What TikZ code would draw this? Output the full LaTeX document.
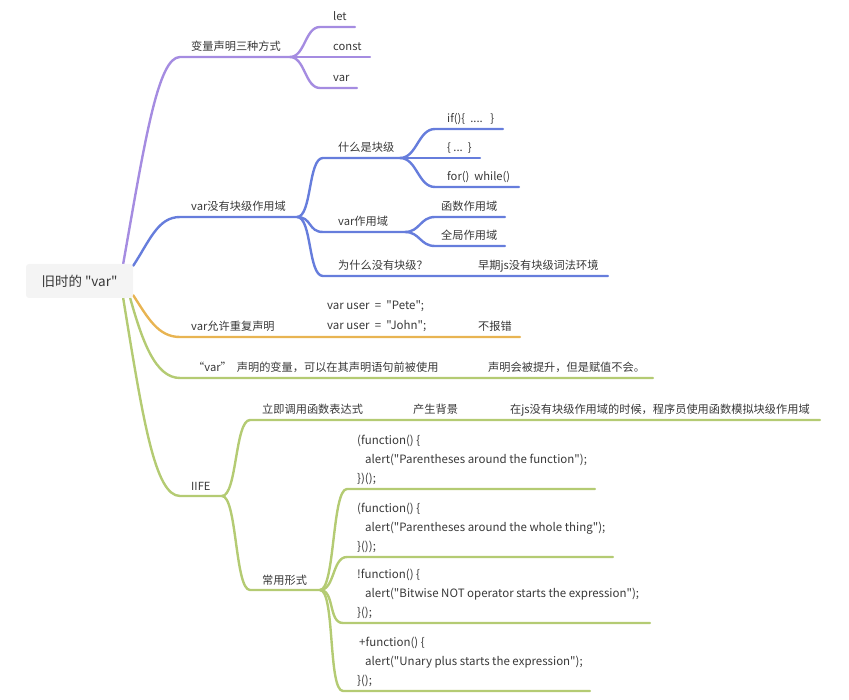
\documentclass[tikz,border=0pt]{standalone}
\usepackage{fontspec}
\setmainfont{Noto Sans CJK SC}[Ligatures=TeXOff]
\usetikzlibrary{backgrounds}
\definecolor{cP}{RGB}{165,140,225}
\definecolor{cB}{RGB}{102,125,220}
\definecolor{cO}{RGB}{232,180,82}
\definecolor{cG}{RGB}{180,203,115}
\definecolor{txt}{RGB}{56,56,56}
\definecolor{rootfill}{RGB}{244,244,244}
\tikzset{
  lbl/.style={anchor=base west, inner sep=0pt, text=txt, font=\fontsize{11.2}{14}\selectfont},
  codeblk/.style={anchor=south west, inner sep=0pt, text=txt, align=left, font=\fontsize{11.5}{19}\selectfont},
  br/.style={line width=2.4pt, draw=#1, line cap=round},
  rootbox/.style={fill=rootfill, rounded corners=3pt, minimum width=107pt, minimum height=34pt, inner sep=0pt, text=txt, font=\fontsize{13.5}{16}\selectfont}
}
\begin{document}
\begin{tikzpicture}[x=1pt,y=-1pt]
\useasboundingbox (0,0) rectangle (849,700);
\node[rootbox] (root) at (79.5,281) {旧时的 "var"};
% ---------- coordinates ----------
% purple
\coordinate (p0s) at (180,57); \coordinate (p0e) at (290,57);
\coordinate (p1s) at (320,27); \coordinate (p1e) at (355,27);
\coordinate (p2e) at (370,57);
\coordinate (p3s) at (320,88); \coordinate (p3e) at (357,88);
% blue
\coordinate (b0s) at (180,217); \coordinate (b0e) at (297,217);
\coordinate (b1s) at (323,158); \coordinate (b1e) at (400,158);
\coordinate (b11s) at (435,129); \coordinate (b11e) at (503,129);
\coordinate (b12e) at (480,158);
\coordinate (b13s) at (435,187); \coordinate (b13e) at (519,187);
\coordinate (b2s) at (323,232); \coordinate (b2e) at (405,232);
\coordinate (b21s) at (435,217); \coordinate (b21e) at (505,217);
\coordinate (b22s) at (435,246); \coordinate (b22e) at (505,246);
\coordinate (b3s) at (323,276); \coordinate (b3e) at (435,276);
\coordinate (b31e) at (608,276);
% orange
\coordinate (o0s) at (180,337); \coordinate (o0e) at (300,337);
\coordinate (o1e) at (433,337);
\coordinate (o2e) at (520,337);
% green
\coordinate (g1s) at (180,378); \coordinate (g1e) at (442,378);
\coordinate (g11e) at (653,378);
\coordinate (g2s) at (180,496); \coordinate (g2e) at (222,496);
\coordinate (g21s) at (250,420); \coordinate (g21e) at (395,420);
\coordinate (g211e) at (495,420);
\coordinate (g2111e) at (820,420);
\coordinate (g22s) at (250,590); \coordinate (g22e) at (320,590);
\coordinate (g221s) at (347,489); \coordinate (g221e) at (595,489);
\coordinate (g222s) at (347,557); \coordinate (g222e) at (613,557);
\coordinate (g223s) at (343,623); \coordinate (g223e) at (650,623);
\coordinate (g224s) at (343,691); \coordinate (g224e) at (590,691);
% ---------- connectors ----------
\begin{scope}[on background layer]
% purple
\draw[br=cP] ([xshift=-10pt]root.north east) .. controls (145,140) and (158,57) .. (p0s) -- (p0e);
\draw[br=cP] (p0e) .. controls +(15,0) and +(-15,0) .. (p1s) -- (p1e);
\draw[br=cP] (p0e) -- (p2e);
\draw[br=cP] (p0e) .. controls +(15,0) and +(-15,0) .. (p3s) -- (p3e);
% blue
\draw[br=cB] ([yshift=-2pt]root.north east) .. controls (150,240) and (158,217) .. (b0s) -- (b0e);
\draw[br=cB] (b0e) .. controls +(15,0) and +(-15,0) .. (b1s) -- (b1e);
\draw[br=cB] (b1e) .. controls +(17,0) and +(-17,0) .. (b11s) -- (b11e);
\draw[br=cB] (b1e) -- (b12e);
\draw[br=cB] (b1e) .. controls +(17,0) and +(-17,0) .. (b13s) -- (b13e);
\draw[br=cB] (b0e) .. controls +(15,0) and +(-15,0) .. (b2s) -- (b2e);
\draw[br=cB] (b2e) .. controls +(15,0) and +(-15,0) .. (b21s) -- (b21e);
\draw[br=cB] (b2e) .. controls +(15,0) and +(-15,0) .. (b22s) -- (b22e);
\draw[br=cB] (b0e) .. controls +(15,0) and +(-15,0) .. (b3s) -- (b3e) -- (b31e);
% orange
\draw[br=cO] ([yshift=3pt]root.south east) .. controls (148,318) and (158,337) .. (o0s) -- (o0e) -- (o1e) -- (o2e);
% green
\draw[br=cG] ([xshift=-3pt]root.south east) .. controls (142,340) and (155,378) .. (g1s) -- (g1e) -- (g11e);
\draw[br=cG] ([xshift=-10pt]root.south east) .. controls (143,420) and (155,496) .. (g2s) -- (g2e);
\draw[br=cG] (g2e) .. controls +(15,0) and +(-15,0) .. (g21s) -- (g21e) -- (g211e) -- (g2111e);
\draw[br=cG] (g2e) .. controls +(15,0) and +(-15,0) .. (g22s) -- (g22e);
\draw[br=cG] (g22e) .. controls +(15,0) and +(-15,0) .. (g221s) -- (g221e);
\draw[br=cG] (g22e) .. controls +(15,0) and +(-15,0) .. (g222s) -- (g222e);
\draw[br=cG] (g22e) .. controls +(15,0) and +(-15,0) .. (g223s) -- (g223e);
\draw[br=cG] (g22e) .. controls +(15,0) and +(-15,0) .. (g224s) -- (g224e);
\end{scope}
% ---------- labels ----------
\node[lbl] (p0t) at (191,51) {变量声明三种方式};
\node[lbl] (p1t) at (333,21) {let};
\node[lbl] (p2t) at (333,51) {const};
\node[lbl] (p3t) at (333,82) {var};
\node[lbl] (b0t) at (191,211) {var没有块级作用域};
\node[lbl] (b1t) at (338,152) {什么是块级};
\node[lbl] (b11t) at (447,123) {if()\{\ \ ....\ \ \ \}};
\node[lbl] (b12t) at (447,152) {\{ ...\ \ \}};
\node[lbl] (b13t) at (447,181) {for()\ \ while()};
\node[lbl] (b2t) at (338,226) {var作用域};
\node[lbl] (b21t) at (441,211) {函数作用域};
\node[lbl] (b22t) at (441,240) {全局作用域};
\node[lbl] (b3t) at (338,270) {为什么没有块级？};
\node[lbl] (b31t) at (478,270) {早期js没有块级词法环境};
\node[lbl] (o0t) at (191,331) {var允许重复声明};
\node[codeblk, font=\fontsize{11.5}{20}\selectfont] (o1t) at (327,332) {var user\ \ =\ \ "Pete";\\var user\ \ =\ \ "John";};
\node[lbl] (o2t) at (478,331) {不报错};
\node[lbl] (g1t) at (193,372) {“var”\ \ 声明的变量，可以在其声明语句前被使用};
\node[lbl] (g11t) at (488,372) {声明会被提升，但是赋值不会。};
\node[lbl] (g2t) at (191,490) {IIFE};
\node[lbl] (g21t) at (262,414) {立即调用函数表达式};
\node[lbl] (g211t) at (413,414) {产生背景};
\node[lbl] (g2111t) at (510,414) {在js没有块级作用域的时候，程序员使用函数模拟块级作用域};
\node[lbl] (g22t) at (262,584) {常用形式};
\node[codeblk] (g221t) at (357,485) {(function() \{\\\hspace*{8pt}alert("Parentheses around the function");\\\})();};
\node[codeblk] (g222t) at (357,553) {(function() \{\\\hspace*{8pt}alert("Parentheses around the whole thing");\\\}());};
\node[codeblk] (g223t) at (357,619) {!function() \{\\\hspace*{8pt}alert("Bitwise NOT operator starts the expression");\\\}();};
\node[codeblk] (g224t) at (357,687) {\hspace*{2pt}+function() \{\\\hspace*{8pt}alert("Unary plus starts the expression");\\\}();};
\end{tikzpicture}
\end{document}
